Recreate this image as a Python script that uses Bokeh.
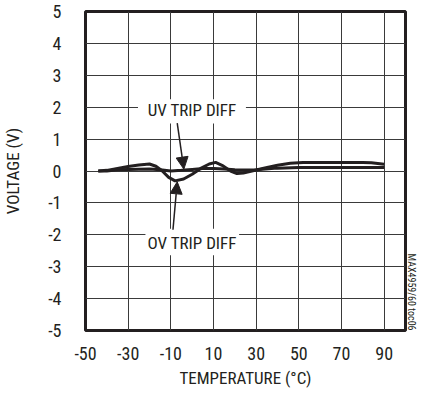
from bokeh.plotting import figure
from bokeh.models import Range1d, FixedTicker, Arrow, NormalHead, Title
from bokeh.core.properties import value
from bokeh.embed import file_html
from bokeh.resources import INLINE

# ---- data ----
x_ticks = [-50, -30, -10, 10, 30, 50, 70, 90]
y_ticks = [-5, -4, -3, -2, -1, 0, 1, 2, 3, 4, 5]
x_tick_labels = ["-50", "-30", "-10", "10", "30", "50", "70", "90"]
y_tick_labels = ["-5", "-4", "-3", "-2", "-1", "0", "1", "2", "3", "4", "5"]

ov_temp = [-44, -40, -35, -30, -25, -20, -17, -14, -11, -8, -4, 0, 4, 8, 11, 14, 18, 21, 24, 28, 33, 40, 46, 52, 60, 70, 80, 84, 90]
ov_diff = [0.0, 0.02, 0.08, 0.14, 0.19, 0.22, 0.15, 0.0, -0.2, -0.31, -0.25, -0.1, 0.08, 0.22, 0.27, 0.18, 0.0, -0.08, -0.06, 0.0, 0.08, 0.18, 0.24, 0.27, 0.27, 0.27, 0.27, 0.26, 0.21]

uv_temp = [-44, -40, -35, -30, -20, -15, -10, -5, 0, 5, 10, 15, 20, 25, 30, 40, 50, 60, 90]
uv_diff = [0.0, 0.0, 0.04, 0.05, 0.06, 0.04, 0.0, 0.02, 0.05, 0.08, 0.08, 0.06, 0.04, 0.03, 0.04, 0.09, 0.11, 0.11, 0.11]

FONT = "Roboto Condensed"
INK = "#231f20"
GRID = "#3a3a3a"

p = figure(width=420, height=390, x_range=Range1d(-50, 100), y_range=Range1d(-5, 5),
           output_backend="svg", toolbar_location=None,
           min_border_left=78, min_border_right=15, min_border_top=11, min_border_bottom=58)

p.outline_line_color = INK
p.outline_line_width = 3

for ax in (p.xaxis[0], p.yaxis[0]):
    ax.axis_line_color = None
    ax.major_tick_line_color = None
    ax.minor_tick_line_color = None
    ax.major_label_text_font = FONT
    ax.major_label_text_font_size = "18px"
    ax.major_label_text_color = INK
    ax.axis_label_text_font = FONT
    ax.axis_label_text_font_size = "17px"
    ax.axis_label_text_font_style = "normal"
    ax.axis_label_text_color = INK

p.xaxis.ticker = FixedTicker(ticks=x_ticks)
p.yaxis.ticker = FixedTicker(ticks=y_ticks)
p.xaxis.major_label_overrides = dict(zip(x_ticks, x_tick_labels))
p.yaxis.major_label_overrides = dict(zip(y_ticks, y_tick_labels))
p.xaxis.axis_label = "TEMPERATURE (°C)"
p.yaxis.axis_label = "VOLTAGE (V)"
p.xaxis.major_label_standoff = 10
p.yaxis.major_label_standoff = 18
p.xaxis.axis_label_standoff = 5
p.yaxis.axis_label_standoff = 22

p.xgrid.ticker = FixedTicker(ticks=x_ticks)
p.ygrid.ticker = FixedTicker(ticks=y_ticks)
for g in (p.xgrid[0], p.ygrid[0]):
    g.grid_line_color = GRID
    g.grid_line_width = 1

# white boxes behind the callout labels (break the grid)
p.quad(left=[-25.4], right=[25.2], bottom=[1.49], top=[2.25], fill_color="white", line_color=None)
p.quad(left=[-21.9], right=[22.0], bottom=[-2.64], top=[-1.81], fill_color="white", line_color=None)

p.line(uv_temp, uv_diff, line_color=INK, line_width=3)
p.line(ov_temp, ov_diff, line_color=INK, line_width=3)

p.text(x=[0], y=[1.9], text=["UV TRIP DIFF"], text_align="center", text_baseline="middle",
       text_font=value(FONT), text_font_size="17px", text_color=INK)
p.text(x=[0], y=[-2.27], text=["OV TRIP DIFF"], text_align="center", text_baseline="middle",
       text_font=value(FONT), text_font_size="17px", text_color=INK)

p.add_layout(Arrow(end=NormalHead(size=12, fill_color=INK, line_color=INK),
                   x_start=-7.0, y_start=1.5, x_end=-3.9, y_end=0.06,
                   line_color=INK, line_width=1.5))
p.add_layout(Arrow(end=NormalHead(size=12, fill_color=INK, line_color=INK),
                   x_start=-9.0, y_start=-1.84, x_end=-7.0, y_end=-0.34,
                   line_color=INK, line_width=1.5))

p.add_layout(Title(text="MAX4959/60 toc06", align="right", standoff=0, offset=0,
                   text_font=FONT, text_font_size="10px", text_font_style="normal",
                   text_color=INK), "right")

open("out.html", "w").write(file_html(p, INLINE))
